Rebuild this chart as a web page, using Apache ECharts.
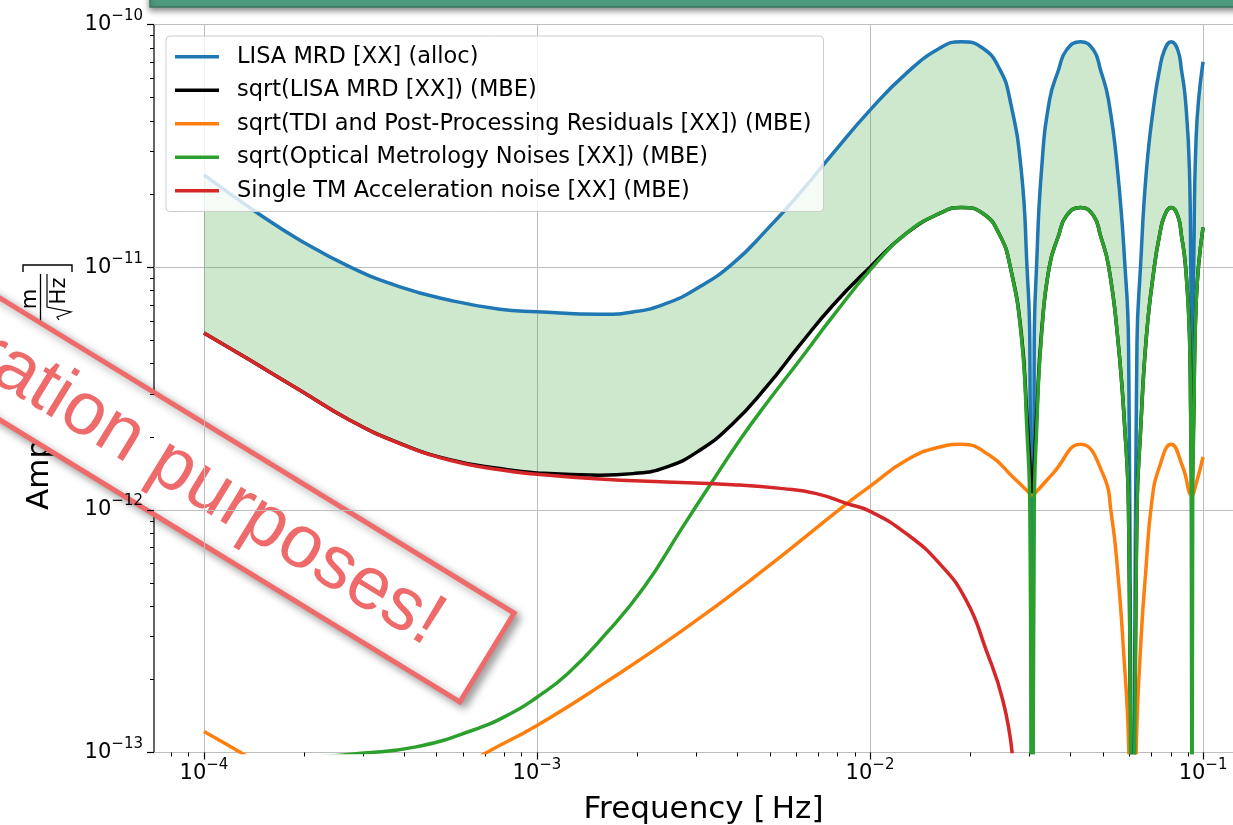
<!DOCTYPE html>
<html>
<head>
<meta charset="utf-8">
<script src="https://cdn.jsdelivr.net/npm/echarts@6/dist/echarts.min.js"></script>
<style>
  html, body { margin: 0; padding: 0; background: #fff; }
  #chart { width: 1233px; height: 825px; }
</style>
</head>
<body>
<div id="chart"></div>
<script>
// series names, in legend order
const seriesNames = [
  'LISA MRD [XX] (alloc)',
  'sqrt(LISA MRD [XX]) (MBE)',
  'sqrt(TDI and Post-Processing Residuals [XX]) (MBE)',
  'sqrt(Optical Metrology Noises [XX]) (MBE)',
  'Single TM Acceleration noise [XX] (MBE)'
];

// frequencies of the TDI lobes (shared by blue / green / black above ~16 mHz)
const lobeFreq = [1.618e-2, 1.879e-2, 2.183e-2, 2.449e-2, 2.633e-2, 2.845e-2, 2.961e-2, 3.019e-2, 3.066e-2, 3.112e-2,
  3.162e-2, 3.273e-2, 3.459e-2, 3.681e-2, 3.890e-2, 4.287e-2, 4.690e-2, 4.922e-2, 5.202e-2, 5.536e-2,
  5.831e-2, 5.973e-2, 6.140e-2, 6.333e-2, 6.489e-2, 6.762e-2, 7.146e-2, 7.398e-2, 7.661e-2, 8.022e-2,
  8.397e-2, 8.614e-2, 8.856e-2, 9.104e-2, 9.186e-2, 9.224e-2, 9.263e-2, 9.301e-2, 9.372e-2, 9.535e-2, 0.1];

// LISA MRD (alloc)
const blueLowFreq = [1e-4, 1.455e-4, 1.942e-4, 2.743e-4, 3.875e-4, 5.474e-4, 7.733e-4, 1e-3, 1.543e-3, 1.943e-3,
  2.447e-3, 3.081e-3, 3.877e-3, 4.885e-3, 6.147e-3, 7.738e-3, 1e-2, 1.285e-2];
const blueLowAmp = [2.40e-11, 1.665e-11, 1.292e-11, 1.003e-11, 8.30e-12, 7.31e-12, 6.71e-12, 6.555e-12, 6.39e-12, 6.54e-12,
  7.085e-12, 8.30e-12, 1.036e-11, 1.421e-11, 2.013e-11, 2.943e-11, 4.44e-11, 6.29e-11];
const blueLobeAmp = [7.98e-11, 8.50e-11, 7.98e-11, 6.56e-11, 4.88e-11, 2.51e-11, 1.0e-11, 4.86e-12, 1e-14, 4.86e-12,
  1.0e-11, 2.51e-11, 4.88e-11, 6.49e-11, 7.85e-11, 8.50e-11, 7.85e-11, 6.49e-11, 4.88e-11, 2.51e-11,
  1.0e-11, 4.86e-12, 1e-14, 4.86e-12, 1.0e-11, 2.51e-11, 4.88e-11, 6.49e-11, 7.85e-11, 8.50e-11,
  7.85e-11, 6.49e-11, 4.88e-11, 2.51e-11, 1.0e-11, 4.86e-12, 1e-14, 4.86e-12, 1.0e-11, 3.44e-11, 7.03e-11];

// sqrt(LISA MRD) (MBE)
const blackLowFreq = [1e-4, 1.374e-4, 1.942e-4, 2.743e-4, 3.875e-4, 5.474e-4, 7.733e-4, 1e-3, 1.543e-3, 1.943e-3,
  2.447e-3, 3.081e-3, 3.877e-3, 4.885e-3, 6.147e-3, 7.738e-3, 1e-2, 1.285e-2];
const blackLowAmp = [5.36e-12, 4.14e-12, 3.11e-12, 2.34e-12, 1.88e-12, 1.61e-12, 1.48e-12, 1.42e-12, 1.39e-12, 1.41e-12,
  1.50e-12, 1.76e-12, 2.27e-12, 3.21e-12, 4.77e-12, 6.97e-12, 1.0e-11, 1.377e-11];
const blackLobeAmp = [1.665e-11, 1.763e-11, 1.665e-11, 1.36e-11, 1.013e-11, 5.37e-12, 2.40e-12, 1.55e-12, 1.15e-12, 1.55e-12,
  2.40e-12, 5.37e-12, 1.013e-11, 1.347e-11, 1.629e-11, 1.763e-11, 1.629e-11, 1.347e-11, 1.013e-11, 5.21e-12,
  2.085e-12, 1.01e-12, 1e-14, 1.01e-12, 2.085e-12, 5.21e-12, 1.013e-11, 1.347e-11, 1.629e-11, 1.763e-11,
  1.629e-11, 1.347e-11, 1.013e-11, 5.34e-12, 2.40e-12, 1.55e-12, 1.15e-12, 1.55e-12, 2.40e-12, 7.23e-12, 1.458e-11];

// sqrt(TDI and Post-Processing Residuals) (MBE)
const orangeFreq = [1e-4, 1.3e-4, 2.0e-4, 3.2e-4, 5.0e-4, 7.0e-4, 1e-3, 1.611e-3, 2.734e-3, 4.638e-3,
  8.518e-3, 1e-2, 1.285e-2, 1.618e-2, 1.879e-2, 2.285e-2, 2.685e-2, 2.978e-2, 3.066e-2, 3.162e-2,
  3.539e-2, 4.287e-2, 4.999e-2, 5.311e-2, 5.555e-2, 5.77e-2, 5.973e-2, 6.14e-2, 6.31e-2, 6.51e-2,
  6.715e-2, 7.023e-2, 7.396e-2, 8.022e-2, 8.691e-2, 9.263e-2, 9.535e-2, 0.1];
const orangeAmp = [1.22e-13, 9.93e-14, 7.0e-14, 6.2e-14, 7.5e-14, 9.93e-14, 1.292e-13, 1.95e-13, 3.185e-13, 5.457e-13,
  1.061e-12, 1.25e-12, 1.60e-12, 1.816e-12, 1.862e-12, 1.677e-12, 1.366e-12, 1.19e-12, 1.148e-12, 1.19e-12,
  1.41e-12, 1.862e-12, 1.41e-12, 9.49e-13, 5.37e-13, 2.634e-13, 1.12e-13, 1.5e-14, 1.12e-13, 2.897e-13,
  5.37e-13, 1.094e-12, 1.501e-12, 1.862e-12, 1.501e-12, 1.15e-12, 1.283e-12, 1.651e-12];

// sqrt(Optical Metrology Noises) (MBE)
const greenLowFreq = [1e-4, 1.942e-4, 2.963e-4, 4.293e-4, 6.382e-4, 8.317e-4, 1e-3, 1.236e-3, 1.611e-3, 2.098e-3,
  2.734e-3, 3.289e-3, 4.06e-3, 4.885e-3, 6.147e-3, 7.738e-3, 1e-2, 1.285e-2];
const greenLowAmp = [8.84e-14, 9.45e-14, 9.93e-14, 1.052e-13, 1.232e-13, 1.444e-13, 1.69e-13, 2.111e-13, 3.087e-13, 4.806e-13,
  8.47e-13, 1.25e-12, 1.934e-12, 2.742e-12, 4.135e-12, 6.28e-12, 9.72e-12, 1.377e-11];
const greenLobeAmp = [1.665e-11, 1.763e-11, 1.665e-11, 1.36e-11, 1.013e-11, 5.21e-12, 2.085e-12, 1.01e-12, 1e-14, 1.01e-12,
  2.085e-12, 5.21e-12, 1.013e-11, 1.347e-11, 1.629e-11, 1.763e-11, 1.629e-11, 1.347e-11, 1.013e-11, 5.21e-12,
  2.085e-12, 1.01e-12, 1e-14, 1.01e-12, 2.085e-12, 5.21e-12, 1.013e-11, 1.347e-11, 1.629e-11, 1.763e-11,
  1.629e-11, 1.347e-11, 1.013e-11, 5.21e-12, 2.085e-12, 1.01e-12, 1e-14, 1.01e-12, 2.085e-12, 7.13e-12, 1.458e-11];

// Single TM Acceleration noise (MBE)
const redFreq = [1e-4, 1.374e-4, 1.942e-4, 2.743e-4, 3.875e-4, 5.474e-4, 7.733e-4, 1e-3, 1.543e-3, 2.447e-3,
  3.877e-3, 5.477e-3, 6.9e-3, 8.518e-3, 1e-2, 1.285e-2, 1.618e-2, 1.945e-2, 2.234e-2, 2.506e-2, 2.673e-2];
const redAmp = [5.36e-12, 4.14e-12, 3.11e-12, 2.34e-12, 1.875e-12, 1.60e-12, 1.462e-12, 1.401e-12, 1.339e-12, 1.302e-12,
  1.27e-12, 1.223e-12, 1.166e-12, 1.061e-12, 9.86e-13, 7.98e-13, 6.0e-13, 4.235e-13, 2.634e-13, 1.638e-13, 9.93e-14];

// axis ticks
const xMin = 7.0795e-5, xMax = 0.14125;
const yMin = 1e-13, yMax = 1e-10;
const majorTicksX = [1e-4, 1e-3, 1e-2, 1e-1];
const majorTicksY = [1e-13, 1e-12, 1e-11, 1e-10];
const minorTicksX = [8e-5, 9e-5, 2e-4, 3e-4, 4e-4, 5e-4, 6e-4, 7e-4, 8e-4, 9e-4,
  2e-3, 3e-3, 4e-3, 5e-3, 6e-3, 7e-3, 8e-3, 9e-3, 2e-2, 3e-2, 4e-2, 5e-2, 6e-2, 7e-2, 8e-2, 9e-2];
const minorTicksY = [2e-13, 3e-13, 4e-13, 5e-13, 6e-13, 7e-13, 8e-13, 9e-13,
  2e-12, 3e-12, 4e-12, 5e-12, 6e-12, 7e-12, 8e-12, 9e-12,
  2e-11, 3e-11, 4e-11, 5e-11, 6e-11, 7e-11, 8e-11, 9e-11];

const colors = ['#1f77b4', '#000000', '#ff7f0e', '#2ca02c', '#d62728'];
const SMOOTH = 0.5;

const zip = (fs, as) => fs.map((f, i) => [f, as[i]]);
const blueData = zip(blueLowFreq.concat(lobeFreq), blueLowAmp.concat(blueLobeAmp));
const blackData = zip(blackLowFreq.concat(lobeFreq), blackLowAmp.concat(blackLobeAmp));
const greenData = zip(greenLowFreq.concat(lobeFreq), greenLowAmp.concat(greenLobeAmp));
const orangeData = zip(orangeFreq, orangeAmp);
const redData = zip(redFreq, redAmp);

// same bezier construction as the smoothed line series, so the band edge follows the lines
function smoothSegments(pts, smooth) {
  const segs = [];
  let prevX = pts[0][0], prevY = pts[0][1];
  let cpx0 = prevX, cpy0 = prevY;
  const clamp = (v, a, b) => Math.max(Math.min(v, Math.max(a, b)), Math.min(a, b));
  for (let i = 1; i < pts.length; i++) {
    const x = pts[i][0], y = pts[i][1];
    const dx = x - prevX, dy = y - prevY;
    if (dx * dx + dy * dy < 0.5) continue;
    let cpx1 = x, cpy1 = y, nx0 = x, ny0 = y;
    if (i + 1 < pts.length) {
      const nextX = pts[i + 1][0], nextY = pts[i + 1][1];
      let vx = nextX - prevX, vy = nextY - prevY;
      const lenPrev = Math.hypot(x - prevX, y - prevY);
      const lenNext = Math.hypot(nextX - x, nextY - y) || 1e-6;
      const ratio = lenNext / (lenNext + lenPrev);
      nx0 = clamp(x + vx * smooth * ratio, nextX, x);
      ny0 = clamp(y + vy * smooth * ratio, nextY, y);
      vx = nx0 - x; vy = ny0 - y;
      cpx1 = clamp(x - vx * lenPrev / lenNext, prevX, x);
      cpy1 = clamp(y - vy * lenPrev / lenNext, prevY, y);
      vx = x - cpx1; vy = y - cpy1;
      nx0 = x + vx * lenNext / lenPrev;
      ny0 = y + vy * lenNext / lenPrev;
    }
    segs.push([[prevX, prevY], [cpx0, cpy0], [cpx1, cpy1], [x, y]]);
    cpx0 = nx0; cpy0 = ny0;
    prevX = x; prevY = y;
  }
  return segs;
}
function sampleBezier(seg, out, reverse) {
  const s = reverse ? [seg[3], seg[2], seg[1], seg[0]] : seg;
  for (let k = 1; k <= 10; k++) {
    const t = k / 10, u = 1 - t;
    out.push([
      u * u * u * s[0][0] + 3 * u * u * t * s[1][0] + 3 * u * t * t * s[2][0] + t * t * t * s[3][0],
      u * u * u * s[0][1] + 3 * u * u * t * s[1][1] + 3 * u * t * t * s[2][1] + t * t * t * s[3][1]
    ]);
  }
}

const font = 'DejaVu Sans';
const powLabel = v => '{b|10}{s|\u2212' + (-Math.round(Math.log10(v))) + '}';
const labelRich = {
  b: { fontFamily: font, fontSize: 21, lineHeight: 32, color: '#000' },
  s: { fontFamily: font, fontSize: 15, color: '#000', verticalAlign: 'top' }
};

function lineSeries(name, data, color) {
  return {
    name: name,
    type: 'line',
    data: data,
    smooth: SMOOTH,
    showSymbol: false,
    symbol: 'none',
    clip: true,
    lineStyle: { color: color, width: 3.5, join: 'round' },
    itemStyle: { color: color },
    emphasis: { disabled: true },
    z: 2
  };
}

const chart = echarts.init(document.getElementById('chart'), null, { renderer: 'canvas' });

chart.setOption({
  animation: false,
  backgroundColor: '#ffffff',
  grid: {
    left: 154, top: 24.5, width: 1099, height: 728,
    show: true, borderColor: '#000', borderWidth: 1.2, backgroundColor: 'transparent',
    outerBoundsMode: 'none'
  },
  legend: {
    data: seriesNames,
    orient: 'vertical',
    left: 166, top: 36,
    icon: 'rect',
    itemWidth: 44, itemHeight: 3.5, itemGap: 0,
    padding: [4, 12, 4, 9],
    backgroundColor: 'rgba(255,255,255,0.8)',
    borderColor: '#cccccc', borderWidth: 1, borderRadius: 4,
    selectedMode: false,
    textStyle: { fontFamily: font, fontSize: 22.5, color: '#000', lineHeight: 33.5, padding: [0, 0, 0, 13] }
  },
  xAxis: [{
    type: 'log', min: xMin, max: xMax, position: 'bottom',
    name: 'Frequency [\u2009Hz]', nameLocation: 'middle', nameGap: 42, nameMoveOverlap: false,
    nameTextStyle: { fontFamily: font, fontSize: 31, color: '#000' },
    axisLine: { show: false },
    axisTick: { show: true, customValues: majorTicksX, length: 7, lineStyle: { color: '#000', width: 1.2 } },
    axisLabel: { customValues: majorTicksX, formatter: powLabel, rich: labelRich, margin: 5 },
    splitLine: { show: true, lineStyle: { color: '#bdbdbd', width: 1 } },
    minorTick: { show: false }
  }, {
    type: 'log', min: xMin, max: xMax, position: 'bottom',
    axisLine: { show: false },
    axisTick: { show: true, customValues: minorTicksX, length: 4, lineStyle: { color: '#000', width: 1 } },
    axisLabel: { show: false },
    splitLine: { show: false }
  }],
  yAxis: [{
    type: 'log', min: yMin, max: yMax, position: 'left',
    axisLine: { show: false },
    axisTick: { show: true, customValues: majorTicksY, length: 7, lineStyle: { color: '#000', width: 1.2 } },
    axisLabel: { customValues: majorTicksY, formatter: powLabel, rich: labelRich, margin: 11 },
    splitLine: { show: true, lineStyle: { color: '#bdbdbd', width: 1 } }
  }, {
    type: 'log', min: yMin, max: yMax, position: 'left',
    axisLine: { show: false },
    axisTick: { show: true, customValues: minorTicksY, length: 4, lineStyle: { color: '#000', width: 1 } },
    axisLabel: { show: false },
    splitLine: { show: false }
  }],
  series: [
    {
      // shaded band between the allocation and the MBE total
      type: 'custom',
      silent: true,
      clip: true,
      z: 1,
      data: [[1e-3, 1e-12]],
      renderItem: function (params, api) {
        const top = smoothSegments(blueData.map(d => api.coord(d)), SMOOTH);
        const bottom = smoothSegments(blackData.map(d => api.coord(d)), SMOOTH);
        const pts = [top[0][0]];
        top.forEach(s => sampleBezier(s, pts, false));
        pts.push(bottom[bottom.length - 1][3]);
        for (let i = bottom.length - 1; i >= 0; i--) sampleBezier(bottom[i], pts, true);
        return { type: 'polygon', shape: { points: pts }, style: { fill: 'rgba(44,160,44,0.24)' } };
      }
    },
    lineSeries(seriesNames[0], blueData, colors[0]),
    lineSeries(seriesNames[1], blackData, colors[1]),
    lineSeries(seriesNames[2], orangeData, colors[2]),
    lineSeries(seriesNames[3], greenData, colors[3]),
    lineSeries(seriesNames[4], redData, colors[4])
  ],
  graphic: [
    {
      // y axis label with the unit as a fraction
      type: 'group', x: 50, y: 510, rotation: Math.PI / 2, z: 50,
      children: [
        { type: 'text', x: 0, y: -10, style: { text: 'Amplitude', fontFamily: font, fontSize: 31, fill: '#000', align: 'left', verticalAlign: 'middle' } },
        { type: 'polyline', shape: { points: [[170, -27], [163, -27], [163, 22], [170, 22]] }, style: { stroke: '#000', lineWidth: 1.4, fill: null } },
        { type: 'text', x: 211, y: -19, style: { text: 'm', fontFamily: font, fontSize: 21, fill: '#000', align: 'center', verticalAlign: 'middle' } },
        { type: 'line', shape: { x1: 186, y1: -9.5, x2: 236, y2: -9.5 }, style: { stroke: '#000', lineWidth: 1.3 } },
        { type: 'polyline', shape: { points: [[190, 9], [193, 7], [198, 21], [203, -3], [236, -3]] }, style: { stroke: '#000', lineWidth: 1.2, fill: null } },
        { type: 'text', x: 219, y: 10, style: { text: 'Hz', fontFamily: font, fontSize: 21, fill: '#000', align: 'center', verticalAlign: 'middle' } },
        { type: 'polyline', shape: { points: [[238, -27], [245, -27], [245, 22], [238, 22]] }, style: { stroke: '#000', lineWidth: 1.4, fill: null } }
      ]
    },
    {
      // bar cut off at the top edge
      type: 'rect', z: 100,
      shape: { x: 150, y: -30, width: 1120, height: 37 },
      style: { fill: '#4f9b80', stroke: '#3a7862', lineWidth: 1.5, shadowBlur: 6, shadowOffsetY: 3, shadowColor: 'rgba(0,0,0,0.45)' }
    },
    {
      // diagonal disclaimer ribbon
      type: 'group', x: 487, y: 657.5, rotation: -31.5 * Math.PI / 180, z: 100,
      children: [
        { type: 'rect', shape: { x: -1400, y: -52, width: 1400, height: 104 },
          style: { fill: '#ffffff', stroke: '#ef6a6a', lineWidth: 5, shadowBlur: 8, shadowOffsetX: 4, shadowOffsetY: 4, shadowColor: 'rgba(0,0,0,0.35)' } },
        { type: 'text', x: -58, y: 2,
          style: { text: 'For illustration purposes!', fontFamily: 'Liberation Sans', fontSize: 75, fill: '#ef6a6a', align: 'right', verticalAlign: 'middle' } }
      ]
    }
  ]
});
</script>
</body>
</html>
